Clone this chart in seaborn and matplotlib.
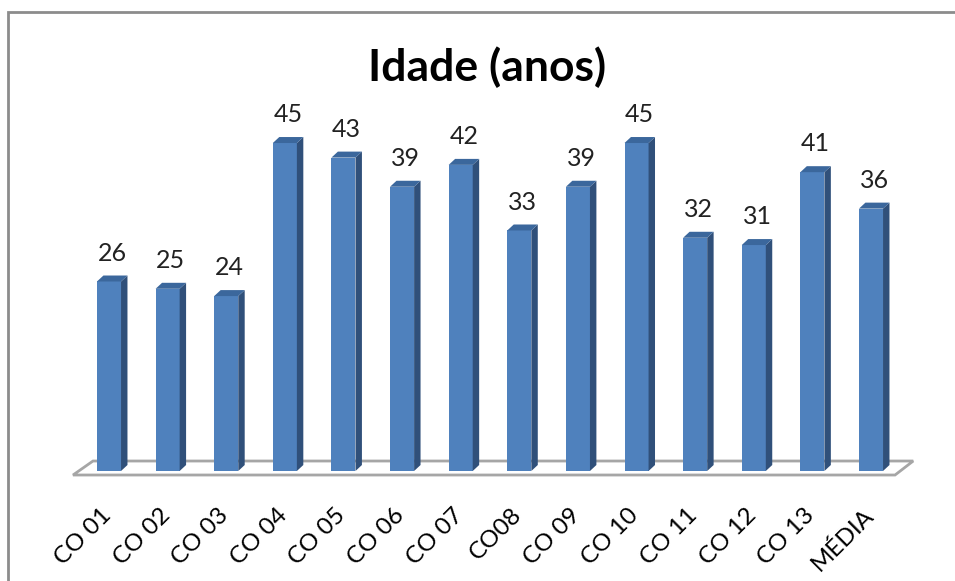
import matplotlib
matplotlib.use("Agg")
import matplotlib.pyplot as plt
import seaborn as sns
from matplotlib.patches import Polygon, Rectangle

# Data
categories = ["CO 01", "CO 02", "CO 03", "CO 04", "CO 05", "CO 06", "CO 07",
              "CO08", "CO 09", "CO 10", "CO 11", "CO 12", "CO 13", "MÉDIA"]
ages = [26, 25, 24, 45, 43, 39, 42, 33, 39, 45, 32, 31, 41, 36]
title = "Idade (anos)"

front_color = "#4F81BD"
side_color = "#30507A"
top_color = "#3B679C"

sns.set_style("white")
plt.rcParams['font.family'] = ['Lato', 'DejaVu Sans']

fig = plt.figure(figsize=(9.55, 5.81), dpi=100)
# axes placed so category centres line up with the reference
ax = fig.add_axes([60 / 955, 1 - 480 / 581, 880 / 955, 380 / 581])

sns.barplot(x=categories, y=ages, color=front_color, width=0.41,
            saturation=1, linewidth=0, ax=ax, zorder=3)

ax.set_xlim(-0.836, 14.177)
ax.set_ylim(-1.235, 50.9)

# 3D depth offsets (data units)
dx, dy = 0.11, 0.82

for bar, v in zip(ax.patches, ages):
    x0 = bar.get_x()
    x1 = x0 + bar.get_width()
    h = bar.get_height()
    side = Polygon([(x1, 0), (x1 + dx, dy), (x1 + dx, h + dy), (x1, h)],
                   closed=True, facecolor=side_color, edgecolor="none", zorder=3)
    top = Polygon([(x0, h), (x0 + dx, h + dy), (x1 + dx, h + dy), (x1, h)],
                  closed=True, facecolor=top_color, edgecolor="none", zorder=3)
    ax.add_patch(side)
    ax.add_patch(top)
    ax.text(x0 + bar.get_width() / 2 + dx / 2, h + dy + 1.5, f"{v}",
            ha="center", va="bottom", fontsize=18, color="#222222")

# floor of the 3D chart
n = len(categories)
floor = Polygon([(-0.614, -0.55), (n - 1 + 0.41, -0.55),
                 (n - 1 + 0.72, 1.37), (-0.273, 1.37)],
                closed=True, facecolor="white", edgecolor="#A6A6A6",
                linewidth=2, zorder=1, clip_on=False)
ax.add_patch(floor)

# rotated category labels
ax.set_xticks([])
ax.set_yticks([])
for i, lab in enumerate(categories):
    ax.text(i - 0.02, -5.6, lab, rotation=45, rotation_mode="anchor",
            ha="right", va="center", fontsize=17.5, color="black")

for s in ax.spines.values():
    s.set_visible(False)
ax.set_xlabel("")
ax.set_ylabel("")

fig.text(487 / 955, 1 - 67 / 581, title, ha="center", va="center",
         fontsize=32, fontweight="bold", color="black")

# chart border
fig.patches.append(Rectangle((8 / 955, -0.1), 1.2, 1 - 12 / 581 + 0.1,
                             transform=fig.transFigure, fill=False,
                             edgecolor="#8C8C8C", linewidth=2))

fig.savefig("out.png", dpi=100)
